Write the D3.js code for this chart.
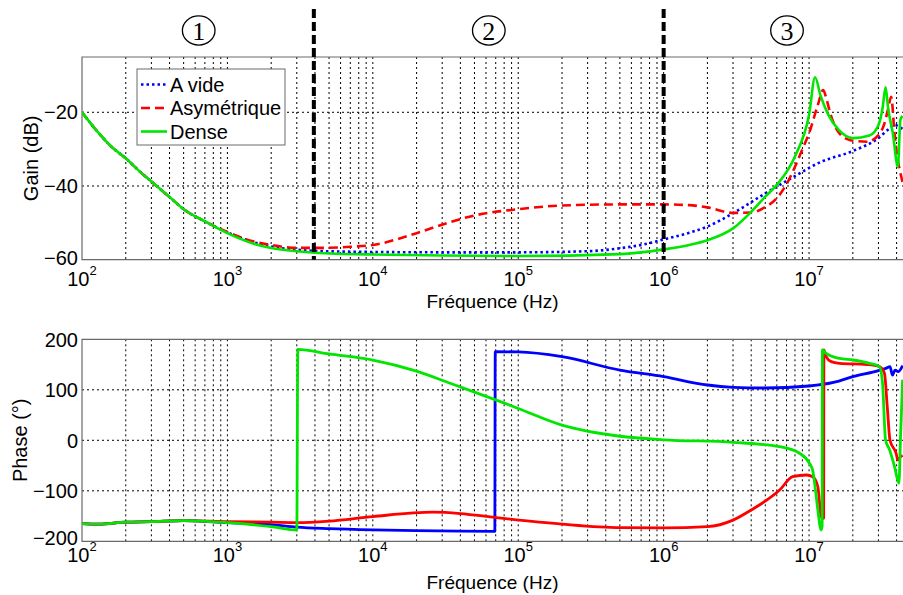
<!DOCTYPE html>
<html><head><meta charset="utf-8">
<script src="https://cdn.jsdelivr.net/npm/d3@7"></script>
<style>
body{margin:0;background:#fff}
svg{display:block}
text{font-family:Arial,"Liberation Sans",sans-serif;fill:#000}
</style></head>
<body><svg id="c" width="903" height="595"></svg>
<script>
// ---------------- DATA ----------------
const seriesNames = ["A vide", "Asymétrique", "Dense"];

// Gain (dB) vs frequency (Hz)
const gainFreqVide = [100,130,160,200,250,300,400,500,700,1000,1500,2000,3000,4000,1e4,3e4,1e5,3e5,5e5,7e5,1e6,1.5e6,2e6,3e6,5e6,8e6,1.2e7,2e7,3e7,3.6e7,3.9e7,4.1e7,4.4e7];
const gainVide     = [-20,-25.6,-29.4,-32.5,-36.1,-38.8,-43,-46.3,-49.6,-52.6,-55.2,-56.4,-57.3,-57.6,-57.9,-58,-58,-57.7,-56.9,-56,-54.5,-52.7,-51,-47.4,-42,-37.3,-33.5,-30.5,-27,-24.3,-23.4,-23.8,-24.5];

const gainFreqAsym = [100,130,160,200,250,300,400,500,700,1000,1500,2000,3000,4000,7000,1e4,2e4,3.4e4,5e4,1e5,2e5,5e5,1e6,1.5e6,2e6,3e6,4e6,5e6,6e6,7e6,8e6,9e6,1e7,1.15e7,1.25e7,1.32e7,1.4e7,1.6e7,1.9e7,2.5e7,3e7,3.3e7,3.5e7,3.67e7,3.87e7,4.08e7,4.25e7,4.4e7];
const gainAsym     = [-20,-25.6,-29.4,-32.5,-36.1,-38.8,-43,-46.3,-49.6,-52.5,-55,-56,-56.8,-56.8,-56.5,-56,-52.8,-49.8,-48,-46.3,-45.3,-45,-45,-45.2,-45.8,-47.3,-47.2,-45.7,-43.3,-39.5,-34.8,-30,-25.7,-18,-14,-16.5,-20.3,-25.5,-27.5,-28,-26.2,-23,-19,-15.8,-25.7,-33,-36.5,-39];

const gainFreqDense = [100,130,160,200,250,300,400,500,700,1000,1500,2000,3000,4000,1e4,1e5,5e5,1e6,1.5e6,2e6,3e6,4e6,5e6,6e6,8e6,1e7,1.1e7,1.2e7,1.35e7,1.6e7,2e7,2.6e7,3e7,3.2e7,3.36e7,3.5e7,3.77e7,4.08e7,4.25e7,4.4e7];
const gainDense     = [-20,-25.6,-29.4,-32.5,-36.1,-38.8,-43,-46.3,-49.6,-52.8,-55.6,-56.8,-57.7,-58.1,-58.6,-59,-58.5,-57.2,-56,-54.7,-51.5,-47,-42.9,-39.7,-32,-20.7,-10.5,-15.5,-20.5,-24.8,-27,-26.3,-23.5,-19,-13.2,-19,-25.7,-34.8,-22,-21];

// Phase (°) vs frequency (Hz)
const phaseFreqVide = [100,130,200,300,500,1000,2000,3000,5000,1e4,2e4,4e4,6.9e4,6.95e4,1e5,2e5,5e5,1e6,2e6,3e6,5e6,1e7,1.5e7,2e7,3e7,3.4e7,3.6e7,3.75e7,3.9e7,4.1e7,4.4e7];
const phaseVide     = [-165,-166,-162,-161,-159,-163,-167,-172,-175,-177.5,-179,-180,-180.5,175.5,175,165.5,139,126,109.5,105,103.6,107.5,115,126,138,143,146,129,139,136,148];

const phaseFreqAsym = [100,130,200,300,500,1000,2000,3000,5000,1e4,2.6e4,4e4,7e4,2e5,5e5,1e6,2e6,3e6,4e6,6.3e6,7.7e6,9.6e6,1.06e7,1.15e7,1.21e7,1.26e7,1.265e7,1.31e7,1.42e7,1.62e7,2.5e7,3.05e7,3.3e7,3.45e7,3.6e7,3.97e7,4.08e7,4.25e7,4.4e7];
const phaseAsym     = [-165,-166,-162,-161,-159,-161,-162,-163,-160,-151,-142.3,-145,-153,-166,-173,-173.5,-171,-158,-138,-98,-72,-68.7,-72,-92,-151,-154.5,179,165.5,155.7,152.5,150,146,132.6,66.5,0.6,-26,-39,-33,-30];

const phaseFreqDense = [100,130,200,300,500,1000,2000,3000,3050,5000,1e4,2e4,3.4e4,7e4,1e5,2e5,5e5,1e6,3e6,6.27e6,8.6e6,1.007e7,1.06e7,1.1e7,1.15e7,1.21e7,1.23e7,1.235e7,1.31e7,1.62e7,2e7,2.6e7,3.05e7,3.2e7,3.36e7,3.58e7,3.87e7,4.15e7,4.25e7,4.4e7];
const phaseDense     = [-165,-166,-162,-161,-159,-163,-171,-177.6,180,171,159,137,113,80,63,30,8,1,-4,-12.6,-25.7,-45.5,-60,-92,-138,-177.6,-170,179,172,162,159,152.5,146,113,0,-19,-52,-85,0,120];

const gainTicks  = [-20, -40, -60];
const phaseTicks = [200, 100, 0, -100, -200];
const xTickExps  = [2, 3, 4, 5, 6, 7];
const zoneBounds = [3930, 1e6];
const zoneLabels = ["1", "2", "3"];

// ---------------- LAYOUT ----------------
const svg = d3.select("#c");
const L = 82, R = 903;
const fMax = Math.pow(10, 7 + (R - 809) / 145.5);
const x = d3.scaleLog().domain([100, fMax]).range([L, R]);
const yG = d3.scaleLinear().domain([-60, -5]).range([259.7, 57]);
const yP = d3.scaleLinear().domain([-200, 200]).range([541.3, 339.3]);

const cBlue = "#0000ff", cRed = "#ff0000", cGreen = "#00e600";

function minusFmt(v){ return (v < 0 ? "\u2212" : "") + Math.abs(v); }

const defs = svg.append("defs");
[["clipG", yG], ["clipP", yP]].forEach(([id, y]) => {
  defs.append("clipPath").attr("id", id).append("rect")
    .attr("x", L).attr("y", y.range()[1] - 2).attr("width", R - L).attr("height", y.range()[0] - y.range()[1] + 4);
});

const gridFreqs = [];
for (let k = 2; k <= 7; k++) for (let m = 1; m <= 9; m++) { const f = m * Math.pow(10, k); if (f > 100 && f <= fMax) gridFreqs.push(f); }

function panel(y, ticks, label, labelX, xLabelY, tickBaseY, lastDy) {
  const g = svg.append("g");
  const y0 = y.range()[0], y1 = y.range()[1];
  g.selectAll(".vg").data(gridFreqs).join("line")
    .attr("x1", d => x(d)).attr("x2", d => x(d)).attr("y1", y1).attr("y2", y0)
    .attr("stroke", "#000").attr("stroke-width", 1).attr("stroke-dasharray", "2,3");
  g.selectAll(".hg").data(ticks.filter(t => y(t) > y1 + 1 && y(t) < y0 - 1)).join("line")
    .attr("x1", L).attr("x2", R).attr("y1", d => y(d)).attr("y2", d => y(d))
    .attr("stroke", "#000").attr("stroke-width", 1).attr("stroke-dasharray", "2,3");
  g.append("path").attr("d", `M${R},${y1}H${L}V${y0}H${R}`)
    .attr("fill", "none").attr("stroke", "#6a6a6a").attr("stroke-width", 1.2);
  g.selectAll(".yl").data(ticks).join("text")
    .attr("x", L - 4).attr("y", d => y(d)).attr("dy", d => (d === ticks[ticks.length - 1] ? lastDy : "0.36em"))
    .attr("text-anchor", "end").attr("font-size", 20).text(d => minusFmt(d));
  const xt = g.selectAll(".xl").data(xTickExps).join("text")
    .attr("x", d => x(Math.pow(10, d))).attr("y", tickBaseY)
    .attr("text-anchor", "middle").attr("font-size", 20);
  xt.append("tspan").text("10");
  xt.append("tspan").attr("dy", -11).attr("font-size", 13).text(d => d);
  g.append("text").attr("x", (L + R) / 2).attr("y", xLabelY).attr("text-anchor", "middle")
    .attr("font-size", 19).text("Fréquence (Hz)");
  g.append("text").attr("transform", `translate(${labelX},${(y0 + y1) / 2}) rotate(-90)`)
    .attr("text-anchor", "middle").attr("font-size", 20).text(label);
  return g;
}

const gTop = panel(yG, gainTicks, "Gain (dB)", 38, 308, 286, "0.26em");
const gBot = panel(yP, phaseTicks, "Phase (\u00B0)", 27, 589, 562, "0.16em");

function draw(g, y, clipId, fr, vals, color, dash, width) {
  const pts = fr.map((f, i) => [f, vals[i]]);
  const line = d3.line().x(d => x(d[0])).y(d => y(d[1])).curve(d3.curveMonotoneX);
  g.append("path").datum(pts).attr("d", line).attr("clip-path", `url(#${clipId})`)
    .attr("fill", "none").attr("stroke", color).attr("stroke-width", width)
    .attr("stroke-dasharray", dash).attr("stroke-linejoin", "round");
}

draw(gTop, yG, "clipG", gainFreqVide, gainVide, cBlue, "2.5,3", 2.6);
draw(gTop, yG, "clipG", gainFreqAsym, gainAsym, cRed, "9,5", 2.6);
draw(gTop, yG, "clipG", gainFreqDense, gainDense, cGreen, null, 2.6);

draw(gBot, yP, "clipP", phaseFreqVide, phaseVide, cBlue, null, 2.8);
draw(gBot, yP, "clipP", phaseFreqAsym, phaseAsym, cRed, null, 2.8);
draw(gBot, yP, "clipP", phaseFreqDense, phaseDense, cGreen, null, 2.8);

svg.selectAll(".zb").data(zoneBounds).join("line")
  .attr("x1", d => x(d)).attr("x2", d => x(d)).attr("y1", 9).attr("y2", yG.range()[0])
  .attr("stroke", "#000").attr("stroke-width", 4).attr("stroke-dasharray", "9,4");

const zoneX = [198.7, 488.8, 787];
const zl = svg.selectAll(".zl").data(zoneLabels).join("g")
  .attr("transform", (d, i) => `translate(${zoneX[i]},30.5)`);
zl.append("ellipse").attr("rx", 16.3).attr("ry", 14.6).attr("fill", "none").attr("stroke", "#000").attr("stroke-width", 1.3);
zl.append("text").attr("y", 9).attr("text-anchor", "middle")
  .style("font-family", "'Liberation Serif','DejaVu Serif',serif").attr("font-size", 26).text(d => d);

const lg = svg.append("g").attr("transform", "translate(137,69)");
lg.append("rect").attr("width", 148).attr("height", 76).attr("fill", "#fff").attr("stroke", "#6a6a6a").attr("stroke-width", 1);
const legItems = [
  {name: seriesNames[0], color: cBlue, dash: "2.5,3"},
  {name: seriesNames[1], color: cRed, dash: "9,5"},
  {name: seriesNames[2], color: cGreen, dash: null}
];
const li = lg.selectAll(".li").data(legItems).join("g").attr("transform", (d, i) => `translate(0,${15.5 + i * 23.5})`);
li.append("line").attr("x1", 4).attr("x2", 30).attr("stroke", d => d.color).attr("stroke-width", 2.6).attr("stroke-dasharray", d => d.dash);
li.append("text").attr("x", 33).attr("dy", "0.36em").attr("font-size", 20).text(d => d.name);
</script></body></html>
